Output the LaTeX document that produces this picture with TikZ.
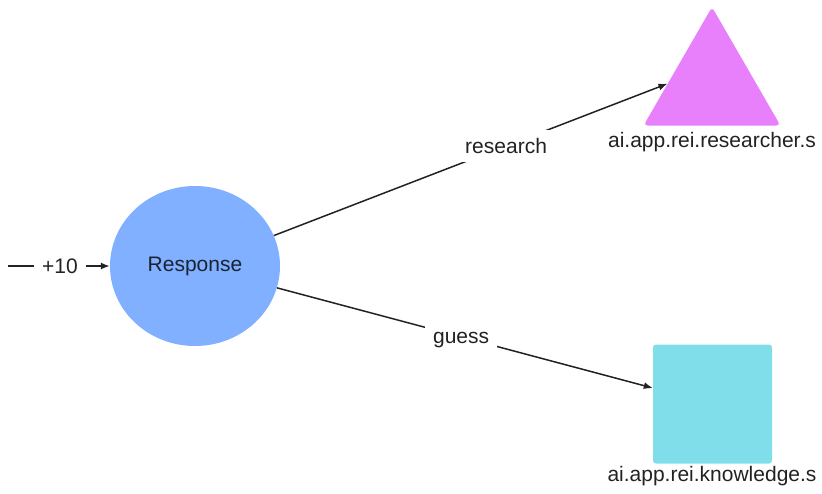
\documentclass[tikz,border=0pt]{standalone}
\usepackage{fontspec}
\setmainfont{Liberation Sans}
\usetikzlibrary{shapes.geometric,arrows.meta}
\definecolor{respblue}{HTML}{80B0FF}
\definecolor{trimagenta}{HTML}{E880FC}
\definecolor{sqcyan}{HTML}{80DEEA}
\definecolor{ink}{HTML}{222222}
\definecolor{navy}{HTML}{1B2333}
\tikzset{
  txt/.style={font=\fontsize{21}{25}\selectfont, text=ink},
  edge/.style={draw=ink, line width=1.5pt, -{Latex[length=9pt,width=7pt]}},
  lbl/.style={txt, fill=white, inner sep=8pt},
}
\begin{document}
\begin{tikzpicture}[x=1pt,y=-1pt]
\useasboundingbox (0,0) rectangle (822,493);
% nodes
\node[ellipse, fill=respblue, minimum width=170pt, minimum height=160pt, inner sep=0pt,
      font=\fontsize{21}{25}\selectfont, text=navy] (resp) at (195,266) {Response};
\node[regular polygon, regular polygon sides=3, fill=trimagenta, minimum size=158pt,
      inner sep=0pt, rounded corners=4pt] (tri) at (712,86) {};
\node[fill=sqcyan, minimum size=119pt, inner sep=0pt, rounded corners=3pt] (sq) at (712.5,404) {};
\node[txt] (trilbl) at (712,142) {ai.app.rei.researcher.s};
\node[txt] (sqlbl) at (712,476) {ai.app.rei.knowledge.s};
% entry
\coordinate (start) at (8,266);
\draw[edge] (start) -- node[lbl, pos=0.51] {+10} (resp);
% branches
\draw[edge] (resp) -- node[lbl, pos=0.59] {research} (tri.177.8);
\draw[edge] (resp) -- node[lbl, pos=0.49, yshift=-3pt] {guess} (sq.165.6);
\end{tikzpicture}
\end{document}
